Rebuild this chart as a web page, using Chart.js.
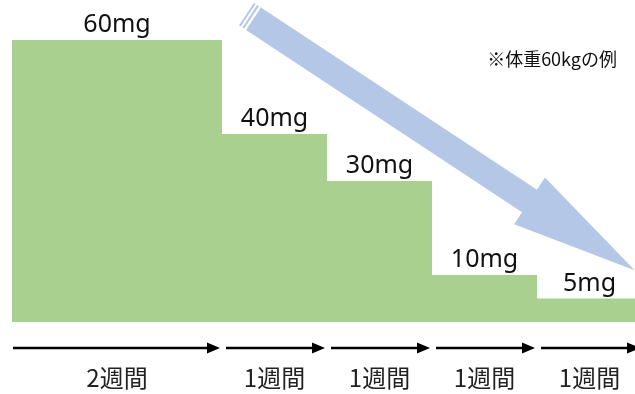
<!DOCTYPE html>
<html>
<head>
<meta charset="utf-8">
<script src="https://cdn.jsdelivr.net/npm/chart.js@4/dist/chart.umd.min.js"></script>
<style>
  html,body{margin:0;padding:0;background:#ffffff;}
  #wrap{width:635px;height:394px;position:relative;}
</style>
</head>
<body>
<div id="wrap"><canvas id="c" width="635" height="394"></canvas></div>
<script>
// ---- data ----
const weeks = [2, 1, 1, 1, 1];
const doses = [60, 40, 30, 10, 5];
const doseLabels = ['60mg', '40mg', '30mg', '10mg', '5mg'];
const durationLabels = ['2週間', '1週間', '1週間', '1週間', '1週間'];
const noteText = '※体重60kgの例';
// decorative trend arrow, in data units [week, mg]
const trendFrom = [2.3, 64.5];
const trendTo = [5.93, 11];

// ---- derived ----
const starts = [];
const ends = [];
let acc = 0;
weeks.forEach(w => { starts.push(acc); acc += w; ends.push(acc); });
const stepPoints = doses.map((d, i) => ({ x: starts[i], y: d }));
stepPoints.push({ x: ends[ends.length - 1], y: doses[doses.length - 1] });

const GREEN = '#a9d08e';
const BLUE = '#b4c7e7';

const overlay = {
  id: 'overlay',
  afterDatasetsDraw(chart) {
    const ctx = chart.ctx;
    const xs = chart.scales.x, ys = chart.scales.y;
    ctx.save();

    // dose labels above each step
    ctx.fillStyle = '#111111';
    ctx.font = '25px "Noto Sans", "Noto Sans CJK JP", sans-serif';
    ctx.textAlign = 'center';
    ctx.textBaseline = 'alphabetic';
    doses.forEach((d, i) => {
      const cx = (xs.getPixelForValue(starts[i]) + xs.getPixelForValue(ends[i])) / 2;
      ctx.fillText(doseLabels[i], cx, ys.getPixelForValue(d) - 8);
    });

    // duration arrows + labels
    const area = chart.chartArea;
    const ay = area.bottom + 26;
    ctx.strokeStyle = '#000000';
    ctx.fillStyle = '#000000';
    ctx.lineWidth = 2.5;
    weeks.forEach((w, i) => {
      const x0 = xs.getPixelForValue(starts[i]) + (i === 0 ? 1 : 4);
      const x1 = xs.getPixelForValue(ends[i]) - 2;
      ctx.beginPath();
      ctx.moveTo(x0, ay);
      ctx.lineTo(x1 - 10, ay);
      ctx.stroke();
      ctx.beginPath();
      ctx.moveTo(x1, ay);
      ctx.lineTo(x1 - 13, ay - 5.5);
      ctx.lineTo(x1 - 13, ay + 5.5);
      ctx.closePath();
      ctx.fill();
    });
    ctx.font = '24px "Noto Sans CJK JP", sans-serif';
    ctx.textBaseline = 'middle';
    ctx.fillStyle = '#222222';
    weeks.forEach((w, i) => {
      const cx = (xs.getPixelForValue(starts[i]) + xs.getPixelForValue(ends[i])) / 2;
      ctx.fillText(durationLabels[i], cx, area.bottom + 56);
    });

    // note
    ctx.font = '18px "Noto Sans CJK JP", sans-serif';
    ctx.textAlign = 'right';
    ctx.textBaseline = 'middle';
    ctx.fillStyle = '#111111';
    ctx.fillText(noteText, area.right - 18, area.top + 19);

    // big trend arrow
    const tx = xs.getPixelForValue(trendFrom[0]), ty = ys.getPixelForValue(trendFrom[1]);
    const px = xs.getPixelForValue(trendTo[0]), py = ys.getPixelForValue(trendTo[1]);
    const len = Math.hypot(px - tx, py - ty);
    const ux = (px - tx) / len, uy = (py - ty) / len;
    const nx = -uy, ny = ux;
    const sw = 13.5, hw = 28, hl = 126;
    const bx = px - ux * hl, by = py - uy * hl;
    ctx.fillStyle = BLUE;
    ctx.beginPath();
    ctx.moveTo(tx + nx * sw, ty + ny * sw);
    ctx.lineTo(bx + nx * sw, by + ny * sw);
    ctx.lineTo(bx + nx * hw, by + ny * hw);
    ctx.lineTo(px, py);
    ctx.lineTo(bx - nx * hw, by - ny * hw);
    ctx.lineTo(bx - nx * sw, by - ny * sw);
    ctx.lineTo(tx - nx * sw, ty - ny * sw);
    ctx.closePath();
    ctx.fill();
    // tail stripes
    [[2.5, 4.5], [6.5, 8.5]].forEach(([a, b]) => {
      const s0x = tx - ux * a, s0y = ty - uy * a;
      const s1x = tx - ux * b, s1y = ty - uy * b;
      ctx.beginPath();
      ctx.moveTo(s0x + nx * sw, s0y + ny * sw);
      ctx.lineTo(s1x + nx * sw, s1y + ny * sw);
      ctx.lineTo(s1x - nx * sw, s1y - ny * sw);
      ctx.lineTo(s0x - nx * sw, s0y - ny * sw);
      ctx.closePath();
      ctx.fill();
    });

    ctx.restore();
  }
};

new Chart(document.getElementById('c'), {
  type: 'line',
  data: {
    datasets: [{
      data: stepPoints,
      stepped: true,
      fill: 'origin',
      backgroundColor: GREEN,
      borderColor: GREEN,
      borderWidth: 0,
      pointRadius: 0
    }]
  },
  options: {
    responsive: false,
    devicePixelRatio: 1,
    animation: false,
    layout: { padding: { left: 12, right: 0, top: 40, bottom: 72 } },
    scales: {
      x: { type: 'linear', min: 0, max: 5.933, display: false },
      y: { min: 0, max: 60, display: false }
    },
    plugins: { legend: { display: false }, tooltip: { enabled: false } }
  },
  plugins: [overlay]
});
</script>
</body>
</html>
